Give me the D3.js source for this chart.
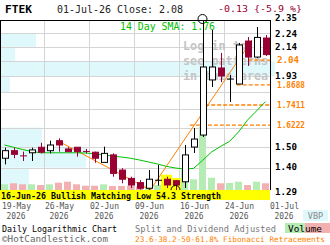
<!DOCTYPE html>
<html><head><meta charset="utf-8">
<script src="https://cdn.jsdelivr.net/npm/d3@7"></script>
<style>
html,body{margin:0;padding:0;background:#fff;overflow:hidden}
svg{display:block}
text{font-family:"DejaVu Sans Mono",monospace}
</style></head><body>
<svg id="c" width="330" height="245"></svg>
<script>
// ---------- data ----------
const ticker = "FTEK";
const dates = ["2026-05-19","2026-05-20","2026-05-21","2026-05-22","2026-05-26","2026-05-27","2026-05-28","2026-05-29",
  "2026-06-01","2026-06-02","2026-06-03","2026-06-04","2026-06-05","2026-06-08","2026-06-09","2026-06-10","2026-06-11",
  "2026-06-12","2026-06-15","2026-06-16","2026-06-17","2026-06-18","2026-06-22","2026-06-23","2026-06-24","2026-06-25",
  "2026-06-26","2026-06-29","2026-06-30","2026-07-01"];
const openP  = [1.443,1.482,1.455,1.471,1.500,1.482,1.535,1.491,1.500,1.478,1.474,1.422,1.460,1.384,1.344,1.324,1.298,1.330,1.340,1.333,1.328,1.501,1.566,1.902,1.984,1.908,1.875,2.182,2.062,2.205];
const highP  = [1.498,1.498,1.477,1.498,1.524,1.535,1.548,1.500,1.500,1.491,1.477,1.503,1.468,1.393,1.352,1.336,1.384,1.409,1.352,1.336,1.512,1.605,2.350,2.269,2.092,1.936,2.167,2.213,2.293,2.229];
const lowP   = [1.412,1.443,1.429,1.429,1.468,1.468,1.477,1.477,1.451,1.468,1.420,1.422,1.352,1.321,1.299,1.292,1.292,1.310,1.299,1.290,1.299,1.470,1.555,1.855,1.888,1.760,1.875,1.998,2.055,2.070];
const closeP = [1.482,1.463,1.454,1.486,1.474,1.512,1.512,1.477,1.477,1.475,1.443,1.468,1.368,1.340,1.313,1.298,1.340,1.335,1.313,1.313,1.460,1.544,1.991,1.991,1.929,1.908,2.152,2.062,2.210,2.080];
const volume = [57,67,57,57,50,57,73,83,57,43,43,57,40,40,45,35,45,50,40,40,200,107,633,123,67,70,83,50,83,67];
const sma14  = [1.512,1.500,1.488,1.478,1.471,1.471,1.471,1.471,1.471,1.470,1.466,1.461,1.454,1.449,1.443,1.434,1.424,1.414,1.402,1.394,1.389,1.392,1.432,1.475,1.504,1.531,1.583,1.651,1.705,1.762];
const vbpEdges  = [1.29,1.396,1.502,1.608,1.714,1.82,1.926,2.032,2.138,2.244,2.35];
const vbpVolume = [105,313,153,0,0,36,1000,55,131,0];
const priceLabels = [2.35,2.24,2.14,1.93,1.50,1.40,1.29];
const fibLevels = [2.04,1.8688,1.7411,1.6222];
const fibLabels = ["2.04","1.8688","1.7411","1.6222"];
const fibStart  = [27.1,25.8,22.3,20.6];
const downTrend = [[5.9,1.5351],[16.2,1.29]];
const upTrend   = [[16.2,1.29],[27.5,2.19]];
const highIdx = 22, lowIdx = 19;
const patternIdx = [18,19];
const dateTickIdx = [0,4,9,14,19,24,29];
const dateTickLabels = ["19-May","26-May","02-Jun","09-Jun","16-Jun","24-Jun","01-Jul"];
const yearLabel = "2026";

// ---------- layout ----------
const svg = d3.select("#c");
const L = 0, R = 270, T = 20, B = 190;
const x = d3.scaleBand().domain(dates).range([L, R]).padding(0);
const bw = x.bandwidth();
const cx = i => x(dates[i]) + bw / 2;
const xi = d3.scaleLinear().domain([-0.5, dates.length - 0.5]).range([L, R]);
const y = d3.scaleLog().domain([1.29, 2.35]).range([B, T]);
const yv = d3.scaleLinear().domain([0, 1000]).range([B, B - 100]);
const wv = d3.scaleLinear().domain([0, 1000]).range([0, 275]);

const RED = "#990033", ORANGE = "#ff7f00", GREEN = "#00c000";

// VBP bars
svg.append("g").selectAll("rect").data(vbpVolume).join("rect")
  .attr("x", L).attr("y", (d, i) => y(vbpEdges[i + 1]))
  .attr("width", d => wv(d)).attr("height", (d, i) => y(vbpEdges[i]) - y(vbpEdges[i + 1]))
  .attr("fill", "#dff8fc");

// grid
const grid = svg.append("g").attr("stroke", "#d4d4d4").attr("stroke-width", 1);
grid.selectAll("line.h").data(vbpEdges.slice(1, -1)).join("line")
  .attr("x1", L).attr("x2", R).attr("y1", d => Math.round(y(d)) + 0.5).attr("y2", d => Math.round(y(d)) + 0.5);
grid.selectAll("line.v").data(dateTickIdx.slice(1, -1)).join("line")
  .attr("x1", i => x(dates[i]) + bw - 0.5).attr("x2", i => x(dates[i]) + bw - 0.5).attr("y1", T).attr("y2", B);

// "log in" watermark
const wm = svg.append("g").attr("fill", "#c4c4c4").attr("font-weight", "bold").attr("font-size", 12);
["Log in to", "see patterns", "in this area"].forEach((t, k) => {
  wm.append("text").attr("x", 183).attr("y", 50 + k * 15).text(t)
    .attr("textLength", t.length * 7.1).attr("lengthAdjust", "spacingAndGlyphs");
});

// volume
svg.append("g").selectAll("rect").data(volume).join("rect")
  .attr("x", (d, i) => cx(i) - 3.5).attr("width", 7)
  .attr("y", d => yv(d)).attr("height", d => B - yv(d))
  .attr("fill", (d, i) => closeP[i] >= openP[i] ? "#b4ecb4" : "#f2b0b0");

// pattern highlight
svg.append("g").selectAll("rect").data(patternIdx).join("rect")
  .attr("x", i => cx(i) - 5.5).attr("width", 11)
  .attr("y", i => y(highP[i]) - 2).attr("height", i => B - y(highP[i]) + 2)
  .attr("fill", "#ffff00");

// fib lines
const fib = svg.append("g");
fib.selectAll("line").data(fibLevels).join("line")
  .attr("x1", (d, k) => xi(fibStart[k])).attr("x2", R)
  .attr("y1", d => y(d)).attr("y2", d => y(d))
  .attr("stroke", ORANGE).attr("stroke-width", 1.3).attr("stroke-dasharray", "4,2");

// trend lines
const tl = d3.line().x(d => xi(d[0])).y(d => y(d[1]));
svg.append("path").attr("d", tl(downTrend)).attr("stroke", ORANGE).attr("fill", "none");
svg.append("path").attr("d", tl(upTrend)).attr("stroke", ORANGE).attr("fill", "none");

// SMA
svg.append("path").datum(sma14)
  .attr("d", d3.line().x((d, i) => cx(i)).y(d => y(d)))
  .attr("stroke", GREEN).attr("fill", "none").attr("stroke-width", 1);

// candles
const cg = svg.append("g");
dates.forEach((d, i) => {
  const up = closeP[i] >= openP[i];
  const col = up ? "#000" : RED;
  const c = Math.round(cx(i)) + 0.5;
  cg.append("line").attr("x1", c).attr("x2", c).attr("y1", y(highP[i])).attr("y2", y(lowP[i])).attr("stroke", col);
  const top = y(Math.max(openP[i], closeP[i])), bot = y(Math.min(openP[i], closeP[i]));
  if (bot - top < 1.5) {
    cg.append("line").attr("x1", c - 3.5).attr("x2", c + 3.5).attr("y1", top).attr("y2", top).attr("stroke", col);
  } else {
    cg.append("rect").attr("x", c - 3).attr("width", 6).attr("y", top).attr("height", bot - top)
      .attr("fill", up ? "#fff" : RED).attr("stroke", col);
  }
});

// high / low circles
svg.append("circle").attr("cx", cx(highIdx)).attr("cy", y(highP[highIdx]) - 1).attr("r", 4.5)
  .attr("fill", "none").attr("stroke", "#000");
svg.append("circle").attr("cx", cx(lowIdx)).attr("cy", y(lowP[lowIdx])).attr("r", 4.5)
  .attr("fill", "none").attr("stroke", "#000");

// frame
svg.append("line").attr("x1", L).attr("x2", R + 1).attr("y1", T + 0.5).attr("y2", T + 0.5).attr("stroke", "#000");
svg.append("line").attr("x1", R + 0.5).attr("x2", R + 0.5).attr("y1", T).attr("y2", B).attr("stroke", "#000");
svg.append("line").attr("x1", 0.5).attr("x2", 0.5).attr("y1", T).attr("y2", B).attr("stroke", "#000");

// price labels
const pl = svg.append("g").attr("font-size", 9).attr("font-weight", "bold");
pl.selectAll("text").data(priceLabels).join("text")
  .attr("x", 275).attr("y", d => y(d) + 3 + (d === 2.35 ? -2.5 : d === 1.29 ? 2 : 0))
  .text(d => d.toFixed(2)).attr("textLength", 22).attr("lengthAdjust", "spacingAndGlyphs");
pl.selectAll("text.f").data(fibLevels).join("text")
  .attr("x", 277).attr("y", d => y(d) + 3).attr("fill", ORANGE)
  .text((d, k) => fibLabels[k]).attr("textLength", (d, k) => fibLabels[k].length > 4 ? 28 : 22)
  .attr("lengthAdjust", "spacingAndGlyphs");

// banner
svg.append("rect").attr("x", 0).attr("y", B).attr("width", R).attr("height", 10).attr("fill", "#ffff00");
const fmtB = d3.timeFormat("%d-%b-%y");
const parse = d3.timeParse("%Y-%m-%d");
svg.append("text").attr("x", 1).attr("y", B + 8.5).attr("font-size", 9).attr("font-weight", "bold")
  .text(fmtB(parse(dates[lowIdx])) + " Bullish Matching Low 54.3 Strength")
  .attr("textLength", 220).attr("lengthAdjust", "spacingAndGlyphs");

// date ticks
const dt = svg.append("g").attr("fill", "#555").attr("font-size", 8.5);
dateTickIdx.forEach((i, k) => {
  const gx = k === 0 ? 2 : x(dates[i]) + bw;
  dt.append("text").attr("x", gx).attr("y", 209).text(dateTickLabels[k])
    .attr("textLength", 29).attr("lengthAdjust", "spacingAndGlyphs");
  dt.append("text").attr("x", gx + 14).attr("y", 219).attr("text-anchor", "middle").text(yearLabel)
    .attr("textLength", 19).attr("lengthAdjust", "spacingAndGlyphs");
});

// header
svg.append("text").attr("x", 5).attr("y", 12.5).attr("font-weight", "bold").attr("font-size", 10)
  .text(ticker).attr("textLength", 27).attr("lengthAdjust", "spacingAndGlyphs");
const last = closeP.length - 1;
const chg = closeP[last] - closeP[last - 1];
svg.append("text").attr("x", 57).attr("y", 12.5).attr("font-size", 10).attr("fill", "#222")
  .text(d3.timeFormat("%d-%b-%y")(parse(dates[last])) + " Close: " + closeP[last].toFixed(2))
  .attr("textLength", 126).attr("lengthAdjust", "spacingAndGlyphs");
svg.append("text").attr("x", 218).attr("y", 11.5).attr("font-size", 9.5).attr("fill", RED)
  .text(chg.toFixed(2) + " {" + (chg / closeP[last - 1] * 100).toFixed(1) + " %}")
  .attr("textLength", 84).attr("lengthAdjust", "spacingAndGlyphs");
svg.append("text").attr("x", 120).attr("y", 30).attr("font-size", 10).attr("fill", GREEN)
  .text("14 Day SMA: " + sma14[last].toFixed(2))
  .attr("textLength", 95).attr("lengthAdjust", "spacingAndGlyphs");

// footer
const ft = svg.append("g").attr("font-size", 8.5);
ft.append("text").attr("x", 2).attr("y", 232).text("Daily Logarithmic Chart")
  .attr("textLength", 115).attr("lengthAdjust", "spacingAndGlyphs");
ft.append("text").attr("x", 135).attr("y", 232).attr("fill", "#777").text("Split and Dividend Adjusted")
  .attr("textLength", 141).attr("lengthAdjust", "spacingAndGlyphs");
ft.append("text").attr("x", 2).attr("y", 241.5).attr("fill", "#666").text("\u00a9HotCandlestick.com")
  .attr("textLength", 106).attr("lengthAdjust", "spacingAndGlyphs");
ft.append("text").attr("x", 135).attr("y", 241.5).attr("font-size", 7.6).attr("fill", ORANGE)
  .text("23.6-38.2-50-61.8% Fibonacci Retracements")
  .attr("textLength", 190).attr("lengthAdjust", "spacingAndGlyphs");

// legend boxes
svg.append("rect").attr("x", 303).attr("y", 210).attr("width", 25).attr("height", 11).attr("fill", "#dff8fc");
svg.append("text").attr("x", 315.5).attr("y", 219).attr("text-anchor", "middle").attr("font-size", 8.5)
  .attr("fill", "#888").text("VBP");
svg.append("rect").attr("x", 285).attr("y", 223).attr("width", 20).attr("height", 10).attr("fill", "#b4ecb4");
svg.append("rect").attr("x", 305).attr("y", 223).attr("width", 25).attr("height", 10).attr("fill", "#f2b0b0");
svg.append("text").attr("x", 305).attr("y", 231.5).attr("text-anchor", "middle").attr("font-size", 8.5)
  .text("Volume").attr("textLength", 34).attr("lengthAdjust", "spacingAndGlyphs");
</script>
</body></html>
